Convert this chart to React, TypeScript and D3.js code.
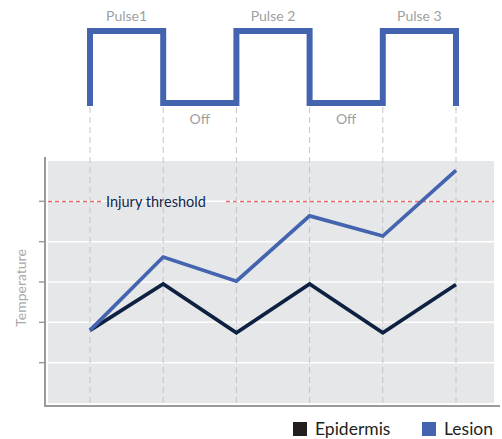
import React from "react";
import * as d3 from "d3";

const times = [0, 1, 2, 3, 4, 5];
const pulseStates = [1, 0, 1, 0, 1]; // state per interval
const pulseLabels = ["Pulse1", "Off", "Pulse 2", "Off", "Pulse 3"];
const lesion = [1.8, 3.62, 3.02, 4.64, 4.14, 5.77];
const epidermis = [1.8, 2.95, 1.74, 2.95, 1.74, 2.94];
const yTicks = [1, 2, 3, 4, 5];
const threshold = 5;
const legendItems = [
  { label: "Epidermis", color: "#231f20" },
  { label: "Lesion", color: "#4464b0" },
];

const W = 502;
const H = 439;

export default function App() {
  const x = d3.scaleLinear().domain([0, 5]).range([90, 456]);
  const y = d3.scaleLinear().domain([0, 6]).range([403, 161]);
  const py = d3.scaleLinear().domain([0, 1]).range([103, 31]);

  const pulsePts: [number, number][] = [[times[0], 0]];
  pulseStates.forEach((s, i) => {
    pulsePts.push([times[i], s]);
    pulsePts.push([times[i + 1], s]);
  });
  pulsePts.push([times[times.length - 1], 0]);
  const pulsePath = d3
    .line<[number, number]>()
    .x((d) => x(d[0]))
    .y((d) => py(d[1]))(pulsePts);

  const line = d3
    .line<number>()
    .x((_, i) => x(times[i]))
    .y((d) => y(d));

  const font = "Lato, 'Open Sans', sans-serif";
  const plotLeft = 48;
  const plotRight = 494;
  const thY = Math.round(y(threshold)) + 0.5;

  return (
    <svg
      width={W}
      height={H}
      style={{ position: "absolute", left: 0, top: 0 }}
      fontFamily={font}
    >
      <rect x={0} y={0} width={W} height={H} fill="#fff" />
      <rect
        x={plotLeft}
        y={y(6)}
        width={plotRight - plotLeft}
        height={y(0) - y(6)}
        fill="#e6e7e9"
      />
      {yTicks.map((t) => (
        <line
          key={t}
          x1={plotLeft}
          x2={plotRight}
          y1={y(t)}
          y2={y(t)}
          stroke="#fff"
          strokeWidth={1.5}
        />
      ))}
      <line
        x1={plotLeft}
        x2={103}
        y1={thY}
        y2={thY}
        stroke="#f0686b"
        strokeWidth={1.3}
        strokeDasharray="4,3"
      />
      <line
        x1={226}
        x2={plotRight}
        y1={thY}
        y2={thY}
        stroke="#f0686b"
        strokeWidth={1.3}
        strokeDasharray="4,3"
      />
      <text x={106} y={thY + 5} fontSize={14.5} fill="#13284f">
        Injury threshold
      </text>
      {times.map((t) => (
        <line
          key={t}
          x1={x(t)}
          x2={x(t)}
          y1={107}
          y2={y(0)}
          stroke="#c4c4c6"
          strokeWidth={1}
          strokeDasharray="6,4"
        />
      ))}
      <line x1={45} x2={45} y1={157} y2={406} stroke="#9a9a9a" strokeWidth={2} />
      <line x1={44} x2={500} y1={406} y2={406} stroke="#9a9a9a" strokeWidth={2} />
      {yTicks.map((t) => (
        <line
          key={t}
          x1={39}
          x2={45}
          y1={y(t)}
          y2={y(t)}
          stroke="#9a9a9a"
          strokeWidth={1.5}
        />
      ))}
      <text
        transform={`translate(26,${(y(0) + y(6)) / 2 + 6}) rotate(-90)`}
        textAnchor="middle"
        fontSize={14}
        fill="#a7a9ac"
      >
        Temperature
      </text>
      <path
        d={line(epidermis) || ""}
        fill="none"
        stroke="#0f2140"
        strokeWidth={3.7}
        strokeLinejoin="miter"
      />
      <path
        d={line(lesion) || ""}
        fill="none"
        stroke="#4464b0"
        strokeWidth={3.7}
        strokeLinejoin="miter"
      />
      <path
        d={pulsePath || ""}
        fill="none"
        stroke="#4464b0"
        strokeWidth={6}
        strokeLinecap="square"
        strokeLinejoin="miter"
      />
      {pulseLabels.map((lab, i) => {
        const on = pulseStates[i] === 1;
        return (
          <text
            key={i}
            x={(x(times[i]) + x(times[i + 1])) / 2}
            y={on ? 21 : 124}
            textAnchor="middle"
            fontSize={14}
            fill="#9d9fa2"
          >
            {lab}
          </text>
        );
      })}
      {legendItems.map((it, i) => {
        const lx = i === 0 ? 293 : 422;
        return (
          <g key={it.label}>
            <rect x={lx} y={422} width={14} height={14} fill={it.color} />
            <text x={lx + 22} y={435} fontSize={17.5} fill="#231f20">
              {it.label}
            </text>
          </g>
        );
      })}
    </svg>
  );
}
